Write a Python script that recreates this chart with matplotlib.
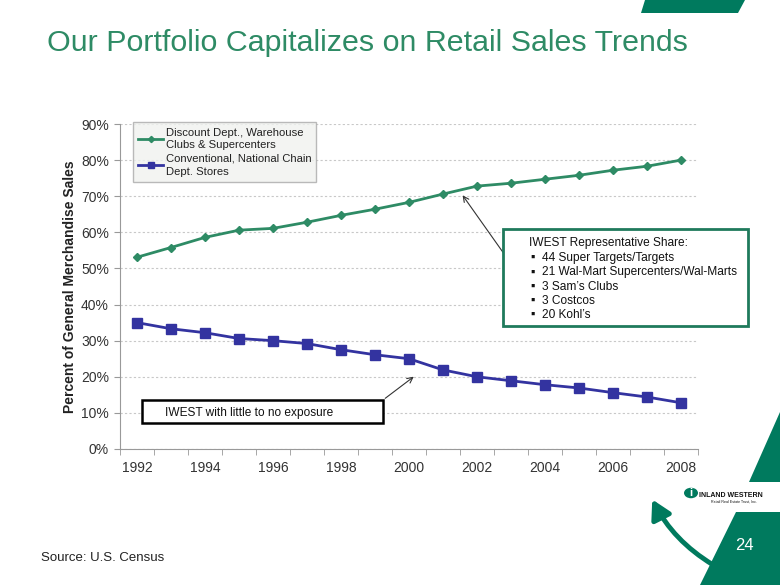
import matplotlib.pyplot as plt
from matplotlib.patches import Polygon, FancyArrowPatch, Circle, Rectangle

plt.rcParams['font.family'] = ['Liberation Sans', 'DejaVu Sans']

years = list(range(1992, 2009))
discount = [53.1, 55.8, 58.6, 60.6, 61.1, 62.8, 64.7, 66.4, 68.3, 70.6,
            72.8, 73.6, 74.7, 75.8, 77.2, 78.3, 80.0]
conventional = [35.0, 33.3, 32.2, 30.6, 30.0, 29.2, 27.5, 26.1, 25.0, 21.9,
                20.0, 18.9, 17.8, 16.9, 15.6, 14.4, 12.8]
year_labels = [str(y) for y in years[::2]]
share_lines = ["44 Super Targets/Targets", "21 Wal-Mart Supercenters/Wal-Marts",
               "3 Sam\u2019s Clubs", "3 Costcos", "20 Kohl\u2019s"]

green = '#2E8B65'
dark_green = '#007A5E'
blue = '#3333A0'

fig = plt.figure(figsize=(7.8, 5.85), dpi=100)
W, H = 780, 585

def fx(x):
    return x / W

def fy(y):
    return 1 - y / H

ax = fig.add_axes([fx(120), fy(449), fx(698) - fx(120), fy(124) - fy(449)])
idx = list(range(len(years)))
l1, = ax.plot(idx, discount, color=green, lw=2, marker='D', ms=4.2,
              label='Discount Dept., Warehouse\nClubs & Supercenters')
l2, = ax.plot(idx, conventional, color=blue, lw=2, marker='s', ms=6.5,
              label='Conventional, National Chain\nDept. Stores')
ax.set_xlim(-0.5, len(years) - 0.5)
ax.set_ylim(0, 90)
ax.set_yticks(range(0, 91, 10))
ax.set_yticklabels([f'{v}%' for v in range(0, 91, 10)], fontsize=10, color='#333333')
ax.set_xticks(idx[::2])
ax.set_xticklabels(year_labels, fontsize=10, color='#333333')
ax.set_xticks([i - 0.5 for i in range(len(years) + 1)], minor=True)
ax.tick_params(axis='x', which='major', length=0, pad=9)
ax.tick_params(axis='x', which='minor', length=4, color='#999999')
ax.tick_params(axis='y', length=4, color='#999999', pad=4)
ax.grid(axis='y', ls=(0, (2, 2)), color='#c8c8c8', lw=0.8)
for s in ['top', 'right']:
    ax.spines[s].set_visible(False)
for s in ['left', 'bottom']:
    ax.spines[s].set_color('#999999')
ax.set_ylabel('Percent of General Merchandise Sales', fontsize=10, fontweight='bold',
              color='#222222', labelpad=3)

leg = ax.legend(loc='upper left', bbox_to_anchor=(0.012, 1.022), fontsize=8.1,
                frameon=True, fancybox=False, handlelength=2.3, handletextpad=0.2,
                labelspacing=0.3, borderpad=0.45, markerscale=0.75,
                labelcolor='#222222')
leg.get_frame().set_facecolor('#F0F2EF')
leg.get_frame().set_edgecolor('#AAAAAA')
leg.get_frame().set_linewidth(1)
for t in leg.get_texts():
    t.set_linespacing(1.35)

# title
fig.text(fx(47), fy(51), 'Our Portfolio Capitalizes on Retail Sales Trends',
         fontsize=21.9, color=green, ha='left', va='baseline')

# share box
fig.patches.append(Rectangle((fx(503), fy(326)), fx(748) - fx(503), fy(229) - fy(326),
                             transform=fig.transFigure, fill=True, fc='white',
                             ec='#1F7A5C', lw=2, zorder=5))
fig.text(fx(529), fy(246), 'IWEST Representative Share:', fontsize=8.6, color='#111111',
         va='baseline', zorder=6)
fig.add_artist(plt.Line2D([fx(529), fx(688)], [fy(248), fy(248)], color='#111111', lw=0.7))
for i, t in enumerate(share_lines):
    yb = fy(261 + i * 14.3)
    fig.text(fx(530), yb, '\u25aa', fontsize=9, color='#111111', va='baseline', zorder=6)
    fig.text(fx(542), yb, t, fontsize=8.6, color='#111111', va='baseline', zorder=6)

# exposure box
fig.patches.append(Rectangle((fx(142), fy(423)), fx(383) - fx(142), fy(400) - fy(423),
                             transform=fig.transFigure, fc='white', ec='black', lw=1.8,
                             zorder=5))
fig.text(fx(165), fy(416), 'IWEST with little to no exposure', fontsize=8.6,
         color='#111111', va='baseline', zorder=6)

# annotation arrows
fig.add_artist(FancyArrowPatch((fx(507), fy(258)), (fx(461), fy(193)),
                               transform=fig.transFigure, arrowstyle='->',
                               mutation_scale=10, color='#333333', lw=0.8))
fig.add_artist(FancyArrowPatch((fx(383), fy(400)), (fx(416), fy(375)),
                               transform=fig.transFigure, arrowstyle='->',
                               mutation_scale=10, color='#333333', lw=0.8))

# decorative shapes
for pts in [[(645, 0), (745, 0), (738, 13), (641, 13)],
            [(749, 482), (780, 482), (780, 412)],
            [(736, 512), (780, 512), (780, 585), (700, 585)]]:
    fig.patches.append(Polygon([(fx(x), fy(y)) for x, y in pts], closed=True,
                               transform=fig.transFigure, fc=dark_green, ec='none'))
fig.add_artist(FancyArrowPatch((fx(780), fy(590)), (fx(712), fy(564)),
                               transform=fig.transFigure, connectionstyle='arc3,rad=-0.1',
                               arrowstyle='-', color='white', lw=3))
fig.add_artist(FancyArrowPatch((fx(715), fy(566)), (fx(651), fy(497)),
                               transform=fig.transFigure, connectionstyle='arc3,rad=-0.15',
                               arrowstyle='-|>,head_length=0.8,head_width=0.45',
                               mutation_scale=14, color=dark_green, lw=3.5))
fig.text(fx(744), fy(546), '24', fontsize=12, color='white', ha='center', va='center')

# logo
fig.patches.append(Circle((fx(691), fy(493)), 7 / W, transform=fig.transFigure,
                          fc=dark_green, ec='none'))
fig.text(fx(691), fy(493), 'i', fontsize=8, color='white', ha='center', va='center',
         fontweight='bold')
fig.text(fx(699), fy(497), 'INLAND WESTERN', fontsize=5.0, color='#111111',
         fontweight='bold', va='baseline')
fig.text(fx(757), fy(503), 'Retail Real Estate Trust, Inc.', fontsize=2.6,
         color='#111111', va='baseline', ha='right')

fig.text(fx(41), fy(561), 'Source: U.S. Census', fontsize=9.5, color='#222222',
         va='baseline')

fig.savefig('out.png', dpi=100)
